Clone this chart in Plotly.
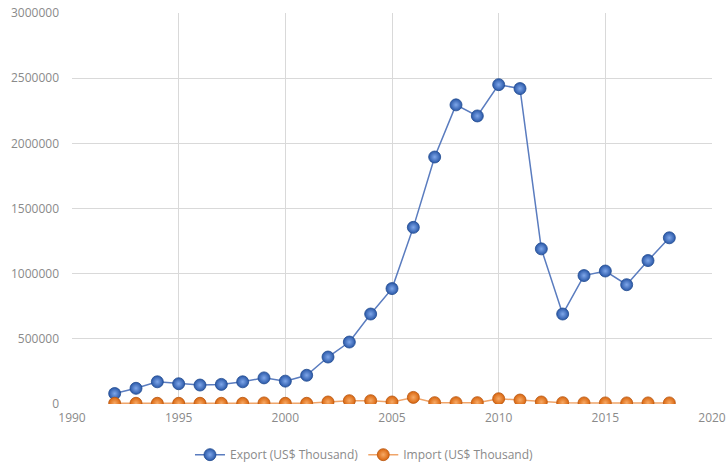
import plotly.graph_objects as go

years = list(range(1992, 2019))
export_vals = [80000, 120000, 170000, 155000, 145000, 150000, 170000, 200000, 175000, 220000,
               360000, 475000, 690000, 885000, 1355000, 1895000, 2295000, 2210000, 2450000, 2420000,
               1190000, 690000, 985000, 1020000, 915000, 1100000, 1275000]
import_vals = [5000, 5000, 5000, 5000, 5000, 5000, 5000, 8000, 5000, 5000,
               15000, 25000, 25000, 15000, 50000, 10000, 10000, 10000, 40000, 30000,
               15000, 10000, 8000, 8000, 8000, 8000, 8000]
y_ticks = [0, 500000, 1000000, 1500000, 2000000, 2500000, 3000000]
x_ticks = [1990, 1995, 2000, 2005, 2010, 2015, 2020]

fig = go.Figure()
fig.add_trace(go.Scatter(
    x=years, y=export_vals, name="Export (US$ Thousand)", mode="lines+markers",
    line=dict(color="#5a7cbf", width=1.5),
    marker=dict(size=12, color="#2a58a8", line=dict(color="#1f4a8f", width=0.8),
                gradient=dict(type="radial", color="#7fa7ea")),
))
fig.add_trace(go.Scatter(
    x=years, y=import_vals, name="Import (US$ Thousand)", mode="lines+markers",
    line=dict(color="#f0a56a", width=1.5),
    marker=dict(size=12, color="#d9660f", line=dict(color="#b8560f", width=0.8),
                gradient=dict(type="radial", color="#f7aa66")),
))

fig.update_layout(
    width=727, height=466,
    margin=dict(l=72, r=15, t=13, b=0, autoexpand=False),
    plot_bgcolor="white", paper_bgcolor="white",
    font=dict(family="Open Sans", size=11, color="#8a8a8a"),
    legend=dict(orientation="h", x=0.457, xanchor="center", y=-0.007, yanchor="bottom",
                font=dict(size=12, color="#8a8a8a")),
    showlegend=True,
)
fig.update_xaxes(range=[1990, 2020], tickvals=x_ticks, showgrid=True, gridcolor="#d9d9d9",
                 zeroline=False, showline=False, ticks="", tickfont=dict(size=12),
                 ticklabelstandoff=5, automargin=False)
fig.update_yaxes(range=[0, 3000000], tickvals=y_ticks, tickformat="d", showgrid=True,
                 gridcolor="#d9d9d9", zeroline=False, showline=False, ticks="",
                 tickfont=dict(size=12), ticklabelstandoff=12, domain=[0.137, 1],
                 automargin=False)

fig.write_html("out.html")
